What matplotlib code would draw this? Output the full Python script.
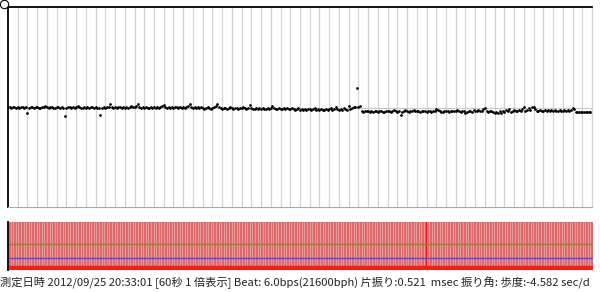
import matplotlib.pyplot as plt
from matplotlib.lines import Line2D
import numpy as np

# beat deviation per beat (ms), 6 beats per second, 60 seconds
deviation = [
    0.1, 0.1, 0.0, 0.1, 0.1, 0.0,
    0.1, 0.0, 0.1, 0.1, 0.0, 0.1,
    -0.5, 0.0, 0.1, 0.1, 0.0, 0.1,
    0.1, 0.0, 0.0, 0.1, 0.1, 0.2,
    0.1, 0.0, 0.1, 0.1, 0.0, 0.0,
    0.1, 0.1, 0.0, 0.1, 0.0, -0.8,
    0.0, 0.1, 0.1, 0.0, 0.1, 0.0,
    0.1, 0.2, 0.1, 0.0, 0.0, 0.1,
    0.0, 0.1, 0.0, 0.1, 0.1, 0.0,
    0.1, 0.0, 0.0, -0.7, 0.0, 0.1,
    0.0, 0.1, 0.1, 0.4, 0.1, 0.0,
    0.1, 0.0, 0.1, 0.1, 0.0, 0.1,
    0.0, 0.1, 0.0, 0.1, 0.2, 0.1,
    0.1, 0.2, 0.4, 0.1, 0.0, 0.1,
    0.0, 0.1, 0.0, 0.0, 0.1, 0.0,
    0.1, 0.0, 0.1, 0.0, 0.1, 0.2,
    0.3, 0.1, 0.0, 0.1, 0.0, 0.1,
    0.0, 0.1, 0.1, 0.0, 0.1, 0.0,
    0.1, 0.0, 0.1, 0.2, 0.4, 0.1,
    0.0, 0.1, 0.0, 0.1, 0.0, 0.1,
    0.0, -0.1, 0.0, 0.1, 0.0, -0.1,
    0.0, 0.1, 0.2, 0.4, 0.1, 0.0,
    -0.1, 0.0, 0.0, -0.1, 0.0, 0.1,
    0.0, -0.1, 0.0, 0.0, -0.1, 0.0,
    0.0, 0.1, 0.0, -0.1, 0.0, 0.3,
    0.0, -0.1, -0.1, 0.0, -0.1, 0.0,
    -0.1, 0.0, -0.1, -0.1, 0.0, -0.1,
    0.0, 0.2, 0.0, -0.1, -0.1, 0.0,
    -0.1, -0.1, 0.0, -0.1, 0.0, -0.1,
    -0.1, 0.0, -0.1, -0.2, -0.1, 0.0,
    -0.2, -0.1, -0.2, -0.1, -0.2, -0.1,
    -0.1, -0.2, -0.1, 0.0, -0.2, -0.1,
    -0.2, -0.1, -0.2, -0.2, -0.1, -0.2,
    -0.1, 0.0, -0.2, -0.1, 0.1, -0.1,
    -0.2, -0.1, -0.2, 0.0, -0.1, -0.2,
    0.2, -0.1, 0.0, 0.1, 0.1, 2.0,
    0.1, 0.2, -0.3, -0.4, -0.3, -0.3,
    -0.3, -0.4, -0.3, -0.4, -0.3, -0.3,
    -0.4, -0.3, -0.3, -0.4, -0.4, -0.3,
    -0.3, -0.3, -0.4, -0.3, -0.2, -0.3,
    -0.4, -0.3, -0.7, -0.4, -0.3, -0.2,
    -0.3, -0.4, -0.3, -0.3, -0.2, -0.3,
    -0.3, -0.3, -0.4, -0.3, -0.3, -0.3,
    -0.4, -0.3, -0.3, -0.4, -0.3, -0.3,
    -0.1, -0.2, -0.3, -0.4, -0.4, -0.3,
    -0.3, -0.3, -0.4, -0.3, -0.3, -0.3,
    -0.3, -0.2, -0.3, -0.4, -0.3, -0.3,
    -0.5, -0.4, -0.3, -0.3, -0.4, -0.2,
    -0.3, -0.3, -0.2, -0.3, -0.3, -0.1,
    0.0, -0.3, -0.4, -0.3, -0.3, -0.4,
    -0.5, -0.4, -0.5, -0.3, -0.5, -0.3,
    -0.4, -0.2, -0.3, -0.1, -0.4, -0.3,
    -0.2, -0.3, -0.3, -0.2, -0.3, -0.1,
    0.1, -0.3, -0.2, 0.0, -0.2, 0.1,
    0.1, -0.1, -0.3, -0.3, -0.2, -0.3,
    -0.3, -0.2, -0.3, -0.2, -0.3, -0.2,
    -0.3, -0.2, -0.3, -0.3, -0.2, -0.3,
    -0.3, -0.2, -0.3, -0.2, -0.3, -0.2,
    0.0, -0.1, -0.4, -0.4, -0.4, -0.4,
    -0.4, -0.4, -0.4, -0.4, -0.4, -0.4,
]
beats_per_sec = 6
seconds = 60
marked_beats = [257]          # beat drawn in bright red in the lower strip
strip_levels = [26, 12, 2]    # olive, purple, red reference lines in lower strip

info = ("測定日時 2012/09/25 20:33:01 [60秒 1 倍表示] Beat: 6.0bps(21600bph) "
        "片振り:0.521  msec 振り角: 歩度:-4.582 sec/d")

plt.rcParams['font.family'] = ['Noto Sans CJK JP', 'DejaVu Sans']

t = np.arange(len(deviation)) / beats_per_sec

fig = plt.figure(figsize=(6, 2.92), dpi=100)
W, H = 600, 292

# upper panel: beat deviation
ax = fig.add_axes([8 / W, (H - 207) / H, 584 / W, 200 / H])
for s in range(1, seconds + 1):
    ax.axvline(s, color='#d4d4d4', linewidth=0.9, zorder=1)
ax.axhline(0, color='#c8c8c8', linewidth=0.8, zorder=1)
ax.plot(t, deviation, linestyle='none', marker='.', markersize=1.9, color='black', zorder=3)
ax.set_xlim(0, seconds)
ax.set_ylim(-9.9, 10.1)
ax.set_xticks([])
ax.set_yticks([])
ax.spines['top'].set_color('black')
ax.spines['top'].set_linewidth(1.3)
ax.spines['left'].set_color('black')
ax.spines['left'].set_linewidth(1.3)
ax.spines['bottom'].set_color('#aaaaaa')
ax.spines['right'].set_color('#d4d4d4')

# lower panel: beat strip
ax2 = fig.add_axes([8 / W, (H - 270) / H, 585 / W, 48 / H])
ax2.set_facecolor('#f0baba')
for i, ti in enumerate(t):
    c = '#ff1010' if i in marked_beats else '#dc6a6a'
    ax2.axvline(ti + 0.08, color=c, linewidth=1.05, zorder=1)
ax2.axhline(strip_levels[0], color='#a07a3a', linewidth=1.0, zorder=2)
ax2.axhline(strip_levels[1], color='#6a48c8', linewidth=1.0, zorder=2)
ax2.axhline(strip_levels[2], color='#ff1a1a', linewidth=3.2, zorder=2)
ax2.set_xlim(0, seconds)
ax2.set_ylim(0, 48)
ax2.set_xticks([])
ax2.set_yticks([])
for side in ['top', 'right', 'bottom']:
    ax2.spines[side].set_visible(False)
ax2.spines['left'].set_color('black')
ax2.spines['left'].set_linewidth(1.3)

# small circle at the corner
fig.add_artist(Line2D([4 / W], [(H - 4) / H], marker='o', markersize=6,
                      markerfacecolor='white', markeredgecolor='black',
                      markeredgewidth=0.8, transform=fig.transFigure))

fig.text(0 / W, (H - 283) / H, info, fontsize=8.1, va='center', ha='left', color='#222222')

plt.savefig('out.png', dpi=100)
